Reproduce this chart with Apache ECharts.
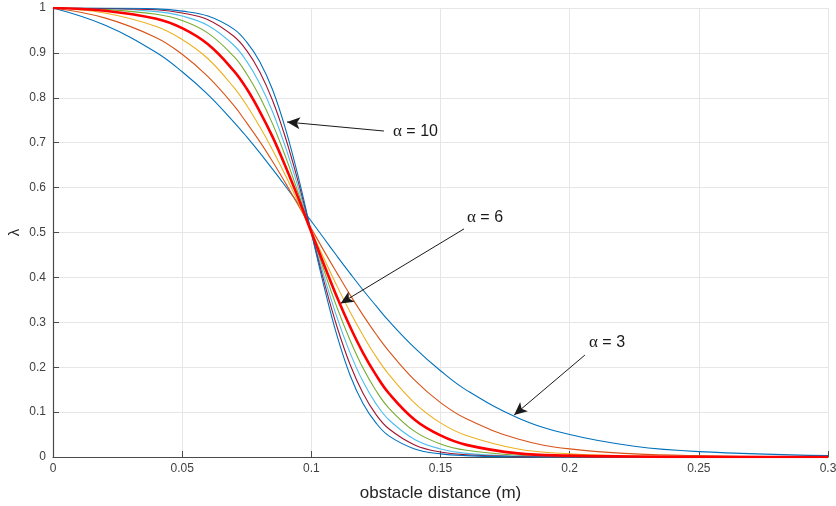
<!DOCTYPE html>
<html>
<head>
<meta charset="utf-8">
<script src="https://cdn.jsdelivr.net/npm/echarts@6/dist/echarts.min.js"></script>
<style>
  html, body { margin: 0; padding: 0; background: #fff; }
  #lambdaChart { width: 836px; height: 506px; }
</style>
</head>
<body>
<div id="lambdaChart"></div>
<script>
// obstacle distance (m), shared by every curve
const distance = [0, 0.02, 0.04, 0.05, 0.06, 0.07, 0.075, 0.08, 0.085, 0.09, 0.095, 0.1, 0.105, 0.11, 0.115, 0.12, 0.125, 0.13, 0.14, 0.15, 0.16, 0.18, 0.2, 0.225, 0.25, 0.3];

// lambda, one array per alpha
const alpha3 = [1, 0.962, 0.901, 0.858, 0.807, 0.746, 0.713, 0.678, 0.641, 0.603, 0.564, 0.525, 0.486, 0.447, 0.409, 0.372, 0.337, 0.303, 0.243, 0.192, 0.149, 0.087, 0.050, 0.024, 0.012, 0.003];
const alpha4 = [1, 0.978, 0.934, 0.897, 0.847, 0.783, 0.744, 0.703, 0.658, 0.610, 0.560, 0.509, 0.458, 0.409, 0.361, 0.316, 0.274, 0.236, 0.171, 0.121, 0.085, 0.040, 0.018, 0.007, 0.003, 0];
const alpha5 = [1, 0.989, 0.959, 0.930, 0.887, 0.823, 0.783, 0.736, 0.684, 0.627, 0.566, 0.503, 0.441, 0.380, 0.323, 0.271, 0.224, 0.184, 0.120, 0.076, 0.048, 0.018, 0.007, 0.002, 0.001, 0];
const alpha6 = [1, 0.994, 0.976, 0.955, 0.919, 0.860, 0.820, 0.770, 0.713, 0.647, 0.576, 0.501, 0.427, 0.355, 0.290, 0.232, 0.183, 0.142, 0.083, 0.048, 0.027, 0.008, 0.003, 0.001, 0, 0];
const alpha7 = [1, 0.997, 0.986, 0.972, 0.944, 0.892, 0.853, 0.803, 0.742, 0.669, 0.587, 0.501, 0.414, 0.332, 0.260, 0.198, 0.148, 0.109, 0.057, 0.029, 0.015, 0.004, 0.001, 0, 0, 0];
const alpha8 = [1, 0.999, 0.992, 0.982, 0.961, 0.917, 0.881, 0.832, 0.769, 0.690, 0.599, 0.500, 0.401, 0.310, 0.232, 0.168, 0.119, 0.083, 0.039, 0.018, 0.008, 0.002, 0, 0, 0, 0];
const alpha9 = [1, 0.999, 0.996, 0.989, 0.974, 0.937, 0.905, 0.858, 0.794, 0.711, 0.611, 0.500, 0.389, 0.289, 0.206, 0.142, 0.095, 0.063, 0.027, 0.011, 0.005, 0.001, 0, 0, 0, 0];
const alpha10 = [1, 1, 0.998, 0.993, 0.982, 0.953, 0.924, 0.881, 0.818, 0.731, 0.623, 0.500, 0.378, 0.269, 0.182, 0.119, 0.076, 0.047, 0.018, 0.007, 0.003, 0, 0, 0, 0, 0];

const alphaNames = ['α = 3', 'α = 4', 'α = 5', 'α = 6', 'α = 7', 'α = 8', 'α = 9', 'α = 10'];
const alphaValues = [alpha3, alpha4, alpha5, alpha6, alpha7, alpha8, alpha9, alpha10];

// arrows: [from, to] in data coords (distance, lambda)
const arrowAlpha10 = [[0.1281, 0.726], [0.0906, 0.746]];
const arrowAlpha6 = [[0.1591, 0.508], [0.1113, 0.342]];
const arrowAlpha3 = [[0.2059, 0.227], [0.1785, 0.0935]];

const lineColors = ['#0072BD', '#D95319', '#EDB120', '#FF0000', '#77AC30', '#4DBEEE', '#A2142F', '#0072BD'];
const axisGray = '#4a4a4a';

let chart = echarts.init(document.getElementById('lambdaChart'));

function arrow(pair) {
  return [
    { coord: pair[0], symbol: 'none' },
    { coord: pair[1], symbol: 'arrow' }
  ];
}

let series = alphaValues.map(function (vals, i) {
  let thick = i === 3;
  return {
    name: alphaNames[i],
    type: 'line',
    data: distance.map(function (d, j) { return [d, vals[j]]; }),
    smooth: 0.4,
    showSymbol: false,
    symbol: 'none',
    z: thick ? 5 : 3,
    lineStyle: { color: lineColors[i], width: thick ? 2.6 : 1.1 },
    itemStyle: { color: lineColors[i] }
  };
});

// arrow annotations hang on the first series
series[0].markLine = {
  silent: true,
  animation: false,
  symbolSize: [9, 13],
  label: { show: false },
  lineStyle: { color: '#1a1a1a', width: 1, type: 'solid' },
  data: [arrow(arrowAlpha10), arrow(arrowAlpha6), arrow(arrowAlpha3)]
};

function note(x, y, num) {
  return {
    type: 'text',
    left: x,
    top: y,
    z: 10,
    style: {
      text: '{a|α} = ' + num,
      fill: '#1a1a1a',
      font: '16px "Liberation Sans", Arial, sans-serif',
      rich: {
        a: { font: '17px "Liberation Serif", "Times New Roman", serif', fill: '#1a1a1a' }
      }
    }
  };
}

let option = {
  animation: false,
  backgroundColor: '#fff',
  grid: { left: 53, right: 8, top: 8, bottom: 49, outerBoundsMode: 'none', containLabel: false },
  xAxis: {
    type: 'value',
    min: 0,
    max: 0.3,
    interval: 0.05,
    name: 'obstacle distance (m)',
    nameLocation: 'middle',
    nameGap: 28,
    nameMoveOverlap: false,
    nameTextStyle: { fontSize: 17, color: '#262626', fontFamily: 'Liberation Sans' },
    axisLine: { show: true, onZero: false, lineStyle: { color: axisGray, width: 1.2 } },
    axisTick: { show: true, inside: true, length: 6, lineStyle: { color: axisGray } },
    axisLabel: {
      color: '#404040', fontSize: 12, fontFamily: 'Liberation Sans', margin: 6,
      formatter: function (v) { return String(+v.toFixed(2)); }
    },
    splitLine: { show: true, lineStyle: { color: '#e6e6e6', width: 1 } }
  },
  yAxis: {
    type: 'value',
    min: 0,
    max: 1,
    interval: 0.1,
    name: 'λ',
    nameLocation: 'middle',
    nameRotate: 90,
    nameGap: 31,
    nameMoveOverlap: false,
    nameTextStyle: { fontSize: 15, color: '#262626', fontFamily: 'Liberation Sans' },
    axisLine: { show: true, onZero: false, lineStyle: { color: axisGray, width: 1.2 } },
    axisTick: { show: true, inside: true, length: 6, lineStyle: { color: axisGray } },
    axisLabel: {
      color: '#404040', fontSize: 12, fontFamily: 'Liberation Sans', margin: 7,
      formatter: function (v) { return String(+v.toFixed(1)); }
    },
    splitLine: { show: true, lineStyle: { color: '#e6e6e6', width: 1 } }
  },
  graphic: [
    note(393, 123, 10),
    note(467, 209, 6),
    note(589, 334, 3)
  ],
  series: series
};

chart.setOption(option);
window.addEventListener('resize', function () {
  chart.resize();
});
</script>
</body>
</html>
